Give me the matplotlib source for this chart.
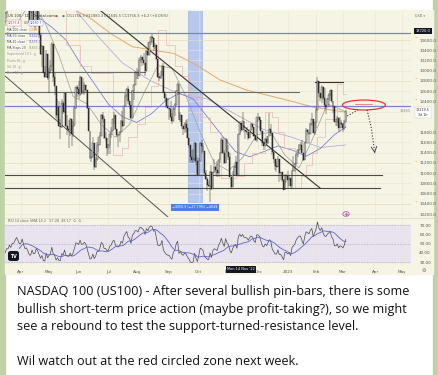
import numpy as np
import pandas as pd
import matplotlib
matplotlib.use("Agg")
import matplotlib.pyplot as plt
from matplotlib.patches import Rectangle, Ellipse, FancyBboxPatch

W, H = 439, 375

# ---------------- data: US100 daily bars, 22 Feb 2022 .. 3 Mar 2023 (bar 0..258) ----------------
first_open = 13850
close_22_02 = [13780, 13470, 13970, 14200, 14240]
high_22_02 = [14000, 13850, 14000, 14240, 14300]
low_22_02 = [13700, 13450, 13000, 13880, 14050]

close_22_03 = [14010, 14250, 14030, 13840, 13320, 13300, 13790, 13640, 13300, 13050, 13450, 13950,
               14130, 14420, 14410, 14690, 14480, 14810, 14800, 15030, 15270, 15090, 14840]
high_22_03 = [14250, 14280, 14400, 14000, 13870, 13560, 13820, 13740, 13750, 13400, 13470, 13960,
              14150, 14440, 14500, 14710, 14650, 14820, 14870, 15050, 15280, 15200, 15100]
low_22_03 = [13920, 13900, 13980, 13730, 13310, 13060, 13450, 13480, 13280, 13020, 13080, 13560,
             13880, 14020, 14240, 14440, 14470, 14470, 14650, 14700, 15000, 14980, 14830]

close_22_04 = [14860, 15180, 14810, 14480, 14530, 14300, 13950, 13900, 14200, 13880,
               13900, 14190, 14000, 13690, 13330, 13480, 12960, 12880, 13330, 12850]
high_22_04 = [14930, 15200, 15180, 14700, 14600, 14540, 14170, 14170, 14240, 14220,
              13990, 14230, 14300, 14280, 13740, 13500, 13400, 13100, 13400, 13200]
low_22_04 = [14700, 14850, 14750, 14350, 14350, 14290, 13930, 13860, 13900, 13870,
             13800, 13850, 13920, 13640, 13300, 13080, 12950, 12860, 12960, 12820]

close_22_05 = [13000, 13100, 13530, 12870, 12700, 12140, 12290, 11920, 11900, 12360, 12200,
               12560, 11930, 11870, 11840, 12050, 11760, 11940, 12270, 12680, 12640]
high_22_05 = [13050, 13200, 13560, 13400, 12950, 12600, 12450, 12400, 12050, 12450, 12400,
              12570, 12540, 12130, 12030, 12070, 11880, 12020, 12320, 12690, 12730]
low_22_05 = [12570, 12930, 13000, 12780, 12520, 12080, 12040, 11900, 11660, 11880, 12150,
             12180, 11900, 11750, 11500, 11730, 11530, 11700, 11900, 12260, 12480]

close_22_06 = [12550, 12880, 12570, 12600, 12720, 12620, 12270, 11830, 11300, 11320, 11580,
               11110, 11250, 11540, 11540, 11720, 12140, 12050, 11680, 11690, 11500]
high_22_06 = [12800, 12890, 12700, 12850, 12780, 12720, 12580, 12100, 11600, 11420, 11700,
              11350, 11320, 11600, 11700, 11800, 12150, 12200, 12120, 11800, 11580]
low_22_06 = [12450, 12510, 12520, 12550, 12520, 12580, 12260, 11820, 11280, 11210, 11350,
             11070, 11100, 11320, 11420, 11570, 11750, 11980, 11670, 11630, 11340]

close_22_07 = [11540, 11760, 11830, 12050, 12130, 11860, 11750, 11740, 11800, 12020,
               11930, 12310, 12500, 12650, 12400, 12330, 12080, 12600, 12720, 12950]
high_22_07 = [11560, 11770, 11900, 12060, 12200, 12070, 11870, 11770, 11830, 12030,
              12220, 12320, 12570, 12660, 12700, 12410, 12270, 12620, 12750, 13000]
low_22_07 = [11380, 11380, 11690, 11840, 11950, 11850, 11700, 11510, 11610, 11880,
             11900, 12000, 12330, 12400, 12350, 12250, 12050, 12180, 12420, 12730]

close_22_08 = [12950, 12890, 13210, 13260, 13210, 13160, 12990, 13380, 13300, 13560, 13660, 13630,
               13470, 13510, 13230, 12880, 12860, 12900, 13100, 12590, 12460, 12320, 12270]
high_22_08 = [13050, 13020, 13240, 13300, 13270, 13350, 13100, 13400, 13560, 13570, 13680, 13720,
              13600, 13550, 13450, 13050, 12960, 13000, 13110, 13150, 12560, 12540, 12470]
low_22_08 = [12840, 12830, 12950, 13150, 13100, 13110, 12900, 13230, 13290, 13380, 13510, 13540,
             13380, 13420, 13200, 12850, 12800, 12830, 12950, 12570, 12410, 12280, 12250]

close_22_09 = [12260, 12100, 12010, 12260, 12330, 12600, 12740, 12040, 12140, 11920, 11860,
               11960, 11880, 11690, 11550, 11310, 11250, 11270, 11590, 11240, 10970]
high_22_09 = [12280, 12400, 12180, 12290, 12370, 12620, 12770, 12450, 12190, 12130, 11880,
              11990, 12030, 12050, 11680, 11500, 11450, 11470, 11610, 11470, 11320]
low_22_09 = [12040, 12070, 11960, 11990, 12120, 12450, 12640, 12030, 11990, 11870, 11750,
             11780, 11810, 11680, 11500, 11200, 11190, 11200, 11220, 11160, 10960]

close_22_10 = [11230, 11580, 11530, 11430, 11000, 10890, 10770, 10740, 11020, 10690, 11020,
               11110, 11060, 11000, 11260, 11390, 11640, 11400, 11200, 11670, 11410]
high_22_10 = [11300, 11600, 11650, 11580, 11310, 11060, 10930, 10850, 11050, 11150, 11030,
              11270, 11150, 11240, 11280, 11420, 11680, 11700, 11450, 11680, 11580]
low_22_10 = [10970, 11350, 11370, 11410, 10970, 10860, 10660, 10720, 10440, 10680, 10800,
             11000, 10960, 10930, 10920, 11200, 11390, 11380, 11170, 11240, 11400]

close_22_11 = [11310, 10920, 10730, 10970, 11120, 11210, 10960, 11760, 11980, 11840, 12010,
               11850, 11830, 11810, 11690, 11850, 11960, 11910, 11730, 11650, 12100]
high_22_11 = [11550, 11390, 10830, 11050, 11140, 11330, 11130, 11770, 12010, 11980, 12200,
              11930, 11850, 11900, 11800, 11850, 11980, 11960, 11850, 11740, 12100]
low_22_11 = [11260, 10920, 10690, 10800, 10980, 11100, 10950, 11400, 11750, 11800, 11890,
             11800, 11670, 11740, 11640, 11690, 11840, 11880, 11710, 11620, 11600]

close_22_12 = [12100, 12030, 11820, 11580, 11520, 11660, 11580, 11720, 11860, 11780, 11410,
               11270, 11130, 11120, 11280, 11010, 11020, 10870, 10680, 10960, 10940]
high_22_12 = [12170, 12040, 11980, 11810, 11590, 11680, 11720, 11720, 12170, 11950, 11620,
              11390, 11270, 11220, 11330, 11130, 11030, 11010, 10890, 10990, 10950]
low_22_12 = [11990, 11850, 11790, 11520, 11450, 11570, 11570, 11560, 11850, 11730, 11360,
             11200, 11070, 11030, 11180, 10830, 10860, 10830, 10670, 10740, 10800]

close_23_01 = [10860, 10910, 10740, 11040, 11110, 11180, 11370, 11460, 11540, 11540,
               11400, 11260, 11590, 11840, 11810, 11770, 11960, 12060, 11790, 11990]
high_23_01 = [11050, 10970, 10830, 11070, 11330, 11190, 11370, 11470, 11560, 11610,
              11640, 11350, 11600, 11880, 11860, 11790, 11980, 12170, 11970, 11990]
low_23_01 = [10700, 10750, 10690, 10690, 11080, 11030, 11200, 11320, 11400, 11450,
             11400, 11230, 11310, 11590, 11750, 11580, 11790, 11930, 11790, 11740]

close_23_02 = [12230, 12800, 12570, 12460, 12690, 12460, 12330, 12300, 12450, 12520,
               12620, 12400, 12310, 12000, 11990, 12080, 11890, 11970, 11950]
high_23_02 = [12270, 12880, 12710, 12560, 12720, 12690, 12660, 12310, 12460, 12560,
              12630, 12570, 12350, 12170, 12060, 12120, 11950, 12100, 12040]
low_23_02 = [11880, 12430, 12490, 12400, 12370, 12420, 12250, 12150, 12300, 12310,
             12400, 12370, 12170, 11990, 11920, 11920, 11810, 11920, 11940]

close_23_03 = [11880, 11990, 12220]
high_23_03 = [11980, 12030, 12230]
low_23_03 = [11810, 11850, 11990]

close = np.array(close_22_02 + close_22_03 + close_22_04 + close_22_05 + close_22_06 + close_22_07 +
                 close_22_08 + close_22_09 + close_22_10 + close_22_11 + close_22_12 + close_23_01 +
                 close_23_02 + close_23_03, dtype=float)
high = np.array(high_22_02 + high_22_03 + high_22_04 + high_22_05 + high_22_06 + high_22_07 +
                high_22_08 + high_22_09 + high_22_10 + high_22_11 + high_22_12 + high_23_01 +
                high_23_02 + high_23_03, dtype=float)
low = np.array(low_22_02 + low_22_03 + low_22_04 + low_22_05 + low_22_06 + low_22_07 +
               low_22_08 + low_22_09 + low_22_10 + low_22_11 + low_22_12 + low_23_01 +
               low_23_02 + low_23_03, dtype=float)
opn = np.concatenate([[first_open], close[:-1]])
high = np.maximum(high, np.maximum(opn, close))
low = np.minimum(low, np.minimum(opn, close))
bars = np.arange(len(close))

# month axis (bar index of first trading day of each month)
month_bars = [28, 48, 69, 90, 110, 133, 154, 175, 196, 217, 237, 256, 279, 298]
month_labels = ["Apr", "May", "Jun", "Jul", "Aug", "Sep", "Oct", "Nov", "Dec", "2023",
                "Feb", "Mar", "Apr", "May"]

# moving averages (bar, price)
ma200_bars = [55, 62, 77, 92, 107, 122, 136, 150, 169, 188, 216, 235, 258]
ma200_vals = [14600, 14250, 14030, 13720, 13470, 13400, 13340, 13150, 12820, 12620, 12430, 12290, 12190]
ma100_bars = [17, 40, 60, 80, 100, 120, 140, 160, 180, 200, 220, 240, 258]
ma100_vals = [15300, 14850, 14400, 13750, 13150, 12800, 12550, 12450, 12150, 11850, 11700, 11500, 11550]
ma50_bars = [17, 30, 40, 50, 60, 70, 80, 90, 100, 110, 120, 130, 140, 150, 160, 170, 180, 190,
             200, 210, 220, 230, 240, 250, 258]
ma50_vals = [14450, 14250, 14050, 13850, 13600, 13150, 12750, 12350, 12100, 11990, 12150, 12400,
             12560, 12450, 12100, 11750, 11420, 11320, 11420, 11530, 11450, 11330, 11480, 11750, 11900]
ma20_bars = [17, 25, 35, 45, 55, 65, 75, 85, 95, 105, 115, 125, 135, 145, 155, 165, 175, 185,
             195, 205, 215, 225, 235, 245, 258]
ma20_vals = [13700, 13900, 14350, 13950, 13300, 12500, 12350, 11950, 11700, 11950, 12550, 13100,
             13050, 12500, 11800, 11200, 11050, 11300, 11750, 11800, 11350, 11100, 11700, 12350, 12200]
stop_bars = [17, 40, 50, 60, 70, 78, 93, 100, 104, 110, 116, 120, 125, 131, 137, 142, 148, 155,
             162, 170, 180, 186, 192, 201, 206, 210, 214, 222, 226, 230, 234, 238, 243, 252, 256, 258]
stop_vals = [15400, 14600, 14200, 13500, 13100, 12950, 11350, 11500, 11700, 11950, 12300, 12700,
             13800, 13500, 13100, 12900, 12500, 12100, 11800, 10900, 10950, 11200, 11400, 12200,
             12100, 11800, 11500, 10700, 10950, 11150, 11400, 11700, 12050, 12750, 12550, 12550]

# drawings (bar, price)
trend_main_bars, trend_main_vals = [84.8, 239.8], [14166, 10709]
trend_low_bars, trend_low_vals = [16.9, 132.2], [12897, 10143]
blue_levels = [13737, 12320]
gray_levels = [(12975, 16.9, 116.0), (12584, 16.9, 225.0)]
dark_levels = [(10963, 16.9, 283.7), (10709, 16.9, 282.3)]
resist_level = (12780, 236.3, 256.1)
orange_levels = [13600, 12800, 12000, 11200, 10400]
range_bars = (146.4, 156.3)
range_low = 10436
zone_center, zone_w, zone_h = (270.9, 12330), 30.4, 195
path_up_bars, path_up_vals = [259, 266.7], [12116, 12233]
path_dn_bars, path_dn_vals = [273.1, 276.0, 278.3], [12233, 11900, 11450]

# ---------------- layout helpers ----------------
PX_PER_BAR, REF_BAR, REF_PX = 1.413, 48, 49
P_REF, P_REF_PX, PX_PER_PT = 13600, 40, 0.0512
def bar_at(px): return REF_BAR + (px - REF_PX) / PX_PER_BAR
def price_at(py): return P_REF - (py - P_REF_PX) / PX_PER_PT
def rect(x0, y0, x1, y1): return [x0 / W, 1 - y1 / H, (x1 - x0) / W, (y1 - y0) / H]
def P(x, y): return (x / W, 1 - y / H)

CREAM = "#f6f4e4"
GRID = "#e8e4d2"

fig = plt.figure(figsize=(W / 100, H / 100), dpi=100)
fig.patch.set_facecolor("white")
fig.add_artist(Rectangle((0, 0), 5 / W, 1, transform=fig.transFigure, color="#bdd2a5", zorder=-10))
fig.add_artist(Rectangle((433 / W, 0), 6 / W, 1, transform=fig.transFigure, color="#bdd2a5", zorder=-10))
fig.add_artist(Rectangle(P(5, 274), 428 / W, 264 / H, transform=fig.transFigure, color=CREAM, zorder=-9))

# ---------------- main price pane ----------------
ax = fig.add_axes(rect(5, 11, 411, 217))
ax.set_facecolor("none")
for s in ax.spines.values():
    s.set_visible(False)
ax.set_xlim(bar_at(5), bar_at(411))
ax.set_ylim(price_at(217), price_at(11))
ax.set_xticks(month_bars)
ax.tick_params(axis="x", length=0, labelbottom=False)
price_ticks = np.arange(10200, 13601, 200)
covered = (12000, 12200)  # hidden under the last-price badge
ax.yaxis.tick_right()
ax.set_yticks(price_ticks)
ax.set_yticklabels(["" if v in covered else f"{v:.1f}" for v in price_ticks])
ax.tick_params(axis="y", length=0, pad=6, labelsize=3, labelcolor="#555")
ax.grid(True, color=GRID, lw=0.4, zorder=0)

for lv in orange_levels:
    ax.axhline(lv, color="#e9b975", lw=0.55, ls=(0, (1, 1.5)), zorder=1)

# blue date-range band
ax.add_patch(Rectangle((range_bars[0], range_low), range_bars[1] - range_bars[0], 5000,
                       facecolor="#a3b9ef", edgecolor="#7f9ae0", lw=0.4, alpha=0.75, zorder=1.5))

# moving averages
ax.plot(ma200_bars, ma200_vals, color="#e2aa6c", lw=0.7, zorder=2)
ax.plot(ma100_bars, ma100_vals, color="#b1a8dc", lw=0.55, zorder=2)
ax.plot(ma50_bars, ma50_vals, color="#7676d4", lw=0.55, zorder=2)
ax.plot(ma20_bars, ma20_vals, color="#a3a3a3", lw=0.55, zorder=2)
ax.plot(stop_bars, stop_vals, color="#e7b9b9", lw=0.5, drawstyle="steps-post", zorder=2)

# horizontal levels
for lv in blue_levels:
    ax.axhline(lv, color="#7e80d8", lw=0.9, zorder=2.5)
for lv, b0, b1 in gray_levels:
    ax.plot([b0, b1], [lv, lv], color="#6c6c6c", lw=0.8, zorder=2.5)
for lv, b0, b1 in dark_levels:
    ax.plot([b0, b1], [lv, lv], color="#4a4a4a", lw=0.8, zorder=2.5)
ax.plot([resist_level[1], resist_level[2]], [resist_level[0]] * 2, color="#333", lw=0.8, zorder=2.5)

# trend lines
ax.plot(trend_main_bars, trend_main_vals, color="#333", lw=0.8, zorder=2.6)
ax.plot(trend_low_bars, trend_low_vals, color="#555", lw=0.7, zorder=2.6)

# candles
up = close >= opn
ax.vlines(bars, low, high, color="#2a2a2a", lw=0.35, zorder=3)
ax.bar(bars[up], (close - opn)[up], bottom=opn[up], width=0.65, color="white",
       edgecolor="#2a2a2a", lw=0.3, zorder=4)
ax.bar(bars[~up], (opn - close)[~up], bottom=close[~up], width=0.65, color="#2a2a2a",
       edgecolor="#2a2a2a", lw=0.3, zorder=4)

# red zone + projected path
ax.add_patch(Ellipse(zone_center, zone_w, zone_h, fill=False, edgecolor="#e23b3b", lw=0.9, zorder=5))
ax.plot([zone_center[0] - 6, zone_center[0] + 6], [zone_center[1] + 25] * 2, color="#e23b3b", lw=0.4, zorder=5)
ax.plot(path_up_bars, path_up_vals, color="#333", lw=0.8, ls=(0, (1, 1.6)), zorder=5)
ax.plot(path_dn_bars, path_dn_vals, color="#333", lw=0.8, ls=(0, (1, 1.6)), zorder=5)
ax.annotate("", xy=(path_dn_bars[-1] + 0.3, path_dn_vals[-1] - 60),
            xytext=(path_dn_bars[-1], path_dn_vals[-1]),
            arrowprops=dict(arrowstyle="->", color="#333", lw=0.6), zorder=5)

# small purple marker
ax.add_patch(Ellipse((bar_at(346), price_at(214)), 4.5, 90, fill=False, edgecolor="#c04fc0", lw=0.6, zorder=5))
ax.plot([bar_at(346)], [price_at(214)], marker="o", ms=0.8, color="#c04fc0", zorder=5)

# ---------------- RSI pane ----------------
s = pd.Series(close)
d = s.diff()
gain = d.clip(lower=0).ewm(alpha=1 / 14, adjust=False, min_periods=14).mean()
loss = (-d.clip(upper=0)).ewm(alpha=1 / 14, adjust=False, min_periods=14).mean()
rsi = 100 - 100 / (1 + gain / loss)
rsi_ma = rsi.rolling(14).mean()

rax = fig.add_axes(rect(5, 219, 411, 266))
rax.set_facecolor("none")
for sp in rax.spines.values():
    sp.set_visible(False)
rax.set_xlim(bar_at(5), bar_at(411))
rax.set_ylim(25.7, 76.5)
rax.axhspan(30, 70, color="#e8e3ee", zorder=0)
for lv in (70, 50, 30):
    rax.axhline(lv, color="#a9a6b8", lw=0.4, ls=(0, (3, 2)), zorder=0.5)
rax.plot(bars, rsi, color="#4a4a4a", lw=0.5, zorder=2)
rax.plot(bars, rsi_ma, color="#6062cc", lw=0.6, zorder=2)
rax.yaxis.tick_right()
rax.set_yticks([30, 40, 50, 60, 70])
rax.set_yticklabels(["30.00", "40.00", "50.00", "60.00", "70.00"])
rax.tick_params(axis="y", length=0, pad=6, labelsize=3, labelcolor="#555")
rax.set_xticks(month_bars)
rax.set_xticklabels(month_labels)
rax.tick_params(axis="x", length=0, pad=3.2, labelsize=3, labelcolor="#555")
rax.grid(True, axis="x", color=GRID, lw=0.4, zorder=0)

fig.add_artist(plt.Line2D([5 / W, 433 / W], [1 - 218 / H] * 2, color="#dcd8c8", lw=0.5))

# ---------------- small chart texts ----------------
def tiny(x, y, txt, color="#444", size=2.6, **kw):
    fig.text(x / W, 1 - y / H, txt, fontsize=size, color=color, va="center", ha="left", **kw)

tiny(8, 16, "US 100 · 1D · Capital.com", "#333")
tiny(55, 16, "●", "#e04040", 2.4)
tiny(62, 16, "●", "#30a050", 2.4)
tiny(67, 16, "O11756.3 H11883.3 L11645.5 C11756.3 +6.2 (+0.05%)", "#555")
tiny(8, 23, "12175.4", "#d33", 2.2, bbox=dict(boxstyle="square,pad=0.2", fc="white", ec="#e07070", lw=0.3))
tiny(23.5, 23, "0.0", "#555", 2.2)
tiny(30, 23, "12180.7", "#3355cc", 2.2, bbox=dict(boxstyle="square,pad=0.2", fc="white", ec="#7090e0", lw=0.3))
legend_rows = [("MA 200 close", "13548.0", "#e09a40"), ("MA 50 close", "11602.3", "#5a5ad0"),
               ("MA 20 close", "11575.9", "#5a5ad0"), ("MA Stops 20", "11657.4", "#6aa040")]
for i, (name, val, col) in enumerate(legend_rows):
    yy = 30 + 6 * i
    tiny(7, yy, name, "#444", 2.2, bbox=dict(boxstyle="square,pad=0.15", fc="white", ec="none", alpha=0.75))
    tiny(29, yy, val, col, 2.2)
for i, name in enumerate(["Supertrend 10 3", "Pivots HL", "Vol 20", "Bars 14"]):
    tiny(7, 54 + 6 * i, name + "  ◎", "#999", 2.2)

tiny(8, 221, "RSI 14 close SMA 14 2   57.28  48.17  ∅  ∅", "#666", 2.4)

# right axis badges
fig.text(423 / W, 1 - 31 / H, "13720.0", fontsize=2.6, color="white", ha="center", va="center",
         bbox=dict(boxstyle="square,pad=0.3", fc="#131722", ec="none"))
fig.text(423 / W, 1 - 112.5 / H, "12219.5\n3d 1h", fontsize=2.4, color="#333", ha="center", va="center",
         linespacing=1.3, bbox=dict(boxstyle="square,pad=0.3", fc="white", ec="#cccccc", lw=0.3))
fig.text(405 / W, 1 - 111 / H, "12330", fontsize=2.4, color="#777", ha="center", va="center")
for yy in (39, 80, 101, 163, 203):
    fig.text(415.5 / W, 1 - yy / H, "•", fontsize=3, color="#e8a040", ha="center", va="center")
fig.text(420 / W, 1 - 16 / H, "USD ▾", fontsize=2.4, color="#666", ha="center", va="center")
fig.text(241 / W, 1 - 269.5 / H, "Mon 14 Nov '22", fontsize=2.5, color="white", ha="center", va="center",
         bbox=dict(boxstyle="square,pad=0.35", fc="#131722", ec="none"))
fig.text(424 / W, 1 - 270 / H, "⚙", fontsize=3.5, color="#666", ha="center", va="center")
fig.text(195 / W, 1 - 207.5 / H, "−4050.3 (−27.79%) −4049", fontsize=2.3, color="white", ha="center",
         va="center", bbox=dict(boxstyle="square,pad=0.35", fc="#4f7fe3", ec="none"))
fig.add_artist(FancyBboxPatch(P(8, 261), 11 / W, 10 / H, boxstyle="round,pad=0,rounding_size=0.006",
                              transform=fig.transFigure, fc="#131722", ec="none", zorder=5))
fig.text(13.5 / W, 1 - 256 / H, "TV", fontsize=3.4, color="white", ha="center", va="center",
         fontweight="bold", zorder=6)

# ---------------- caption text ----------------
para = ["NASDAQ 100 (US100) - After several bullish pin-bars, there is some",
        "bullish short-term price action (maybe profit-taking?), so we might",
        "see a rebound to test the support-turned-resistance level.",
        "",
        "Wil watch out at the red circled zone next week."]
baselines = [295.3, 312.8, 330.3, 347.8, 365.0]
probe = fig.text(0, 0, para[1], fontsize=9, family="Open Sans")
fig.canvas.draw()
wpx = probe.get_window_extent().width
probe.remove()
fs = 9 * 392.0 / wpx
for line, yb in zip(para, baselines):
    if line:
        fig.text(17 / W, 1 - yb / H, line, fontsize=fs, family="Open Sans", color="#111", va="baseline")

fig.savefig("out.png", dpi=100, facecolor="white")
